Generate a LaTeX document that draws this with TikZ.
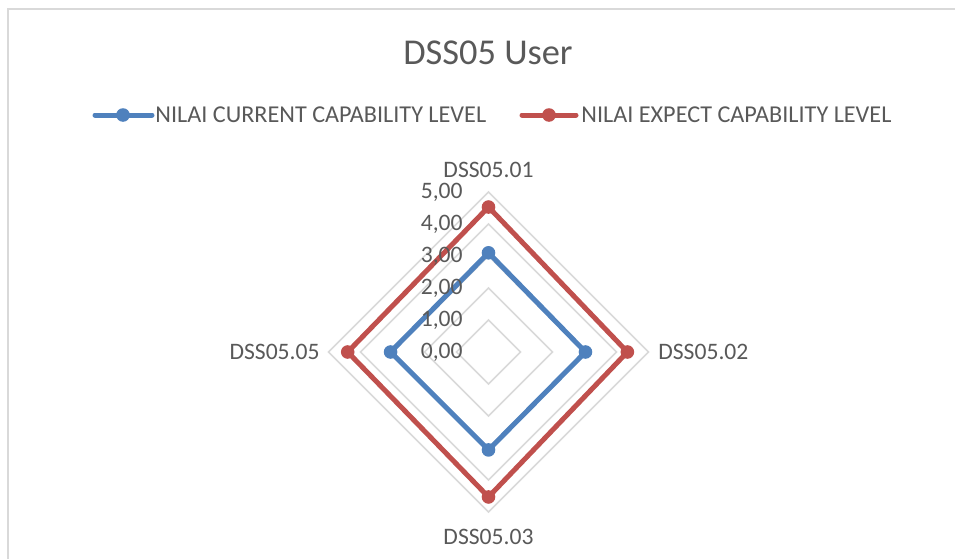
\documentclass[tikz,border=0pt]{standalone}
\usepackage{fontspec}
\setmainfont{Carlito}
\usepackage{xcolor}
\definecolor{gridgray}{HTML}{D9D9D9}
\definecolor{txtgray}{HTML}{595959}
\definecolor{curblue}{HTML}{4F81BD}
\definecolor{expred}{HTML}{C0504D}

\begin{document}
\begin{tikzpicture}[
      x = 0.5pt, y = 0.5pt,
      every node/.style = {text = txtgray, font = \fontsize{11.8}{14}\selectfont, inner sep = 0pt},
      keytext/.style = {anchor = west, font = \fontsize{12.1}{14}\selectfont},
      gridline/.style = {draw = gridgray, line width = 0.75pt},
      series/.style = {line width = 2.5pt, line join = round, line cap = round},
      dot/.style = {circle, fill = #1, minimum size = 6.8pt}
      ]
      \useasboundingbox (0,0) rectangle (955,559);
      \coordinate (frameA) at (8,0);
      \coordinate (frameB) at (8,550);
      \coordinate (frameC) at (955,550);
      \draw[gridline] (frameA) -- (frameB) -- (frameC);

      \node[font = \fontsize{18.2}{22}\selectfont, anchor = base] (title) at (488,495) {DSS05 User};

      % legend
      \coordinate (keyA1) at (95,444);
      \coordinate (keyA2) at (152,444);
      \draw[series, curblue] (keyA1) -- (keyA2);
      \node[dot = curblue] (keyAdot) at (123,444) {};
      \node[keytext] (keyA) at (155,444) {NILAI CURRENT CAPABILITY LEVEL};
      \coordinate (keyB1) at (522,444);
      \coordinate (keyB2) at (576,444);
      \draw[series, expred] (keyB1) -- (keyB2);
      \node[dot = expred] (keyBdot) at (549,444) {};
      \node[keytext] (keyB) at (581,444) {NILAI EXPECT CAPABILITY LEVEL};

      \begin{scope}[shift = {(488.5,207)}]
        % grid, one diamond per level
        \foreach \k in {1,...,5}
          \draw[gridline] (90:32*\k) -- (0:32*\k) -- (-90:32*\k) -- (180:32*\k) -- cycle;

        \foreach \v [count = \i] in {3.1,3.03,3.06,3.06}
          \coordinate (cur\i) at ({180-90*\i}:{32*\v});
        \foreach \v [count = \i] in {4.53,4.34,4.53,4.4}
          \coordinate (exp\i) at ({180-90*\i}:{32*\v});

        \draw[series, curblue] (cur1) -- (cur2) -- (cur3) -- (cur4) -- cycle;
        \draw[series, expred] (exp1) -- (exp2) -- (exp3) -- (exp4) -- cycle;
        \foreach \i in {1,...,4} {
          \node[dot = curblue] (curdot\i) at (cur\i) {};
          \node[dot = expred] (expdot\i) at (exp\i) {};
        }

        % value axis
        \foreach \k in {0,...,5}
          \node[anchor = east] (tick\k) at (-25.5,32*\k) {\k,00};

        \node (cat1) at (0,182) {DSS05.01};
        \node[anchor = west] (cat2) at (169.5,0) {DSS05.02};
        \node (cat3) at (0,-185) {DSS05.03};
        \node[anchor = east] (cat4) at (-168.5,0) {DSS05.05};
      \end{scope}
    \end{tikzpicture}
\end{document}
